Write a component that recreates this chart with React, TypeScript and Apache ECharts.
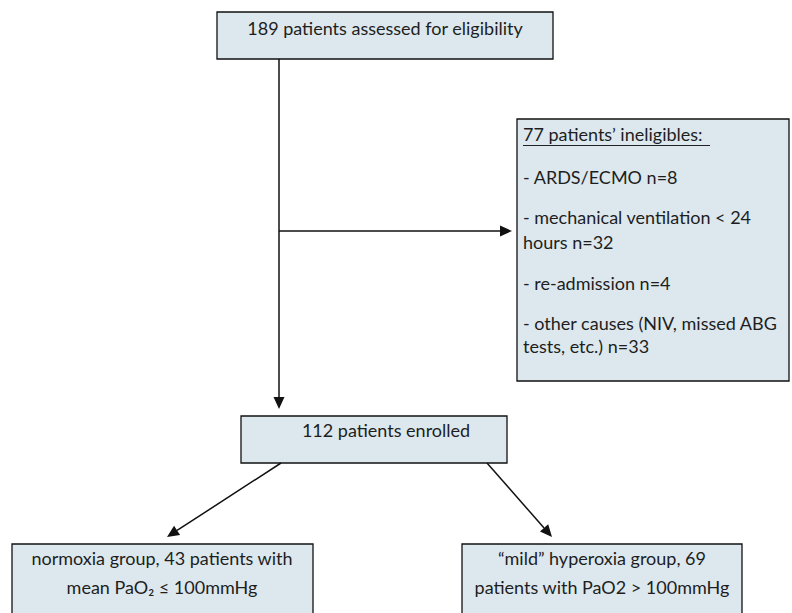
import React, { useEffect, useRef } from "react";
import * as echarts from "echarts";

const topLabel = ["189 patients assessed for eligibility"];
const excludedTitle = "77 patients\u2019 ineligibles:";
const excludedLines = [
  ["- ARDS/ECMO n=8"],
  ["- mechanical ventilation < 24", "hours n=32"],
  ["- re-admission n=4"],
  ["- other causes (NIV, missed ABG", "tests, etc.) n=33"],
];
const enrolledLabel = ["112 patients enrolled"];
const groupLabels = [
  ["normoxia group, 43 patients with", "mean PaO\u2082 \u2264 100mmHg"],
  ["\u201cmild\u201d hyperoxia group, 69", "patients with PaO2 > 100mmHg"],
];

const FILL = "#dce8ee";
const FONT = "Lato";
const FS = 18;

function box(x: number, y: number, w: number, h: number) {
  return {
    type: "rect",
    shape: { x, y, width: w, height: h },
    style: { fill: FILL, stroke: "#111", lineWidth: 1.3 },
  };
}

function text(x: number, y: number, t: string, align: string = "center") {
  return {
    type: "text",
    x,
    y,
    style: {
      text: t,
      fill: "#1e1e1e",
      font: `${FS}px ${FONT}`,
      align,
      verticalAlign: "middle",
    },
  };
}

function arrow(x1: number, y1: number, x2: number, y2: number) {
  const dx = x2 - x1;
  const dy = y2 - y1;
  const len = Math.sqrt(dx * dx + dy * dy);
  const ux = dx / len;
  const uy = dy / len;
  const hl = 12;
  const hw = 5.5;
  const bx = x2 - ux * hl;
  const by = y2 - uy * hl;
  return [
    {
      type: "line",
      shape: { x1, y1, x2: bx, y2: by },
      style: { stroke: "#111", lineWidth: 1.5 },
    },
    {
      type: "polygon",
      shape: {
        points: [
          [x2, y2],
          [bx - uy * hw, by + ux * hw],
          [bx + uy * hw, by - ux * hw],
        ],
      },
      style: { fill: "#111" },
    },
  ];
}

export default function App() {
  const ref = useRef<HTMLDivElement>(null);
  useEffect(() => {
    document.body.style.margin = "0";
    const chart = echarts.init(ref.current!, null, { renderer: "svg" });
    const els: any[] = [];
    // top box
    els.push(box(217, 12, 336, 47));
    els.push(text(385, 28, topLabel[0]));
    // excluded box
    els.push(box(517, 119, 272, 262));
    els.push(text(523, 134, excludedTitle, "left"));
    els.push({
      type: "line",
      shape: { x1: 523, y1: 145.5, x2: 710, y2: 145.5 },
      style: { stroke: "#222", lineWidth: 1 },
    });
    const ys = [[177], [217, 242], [283], [323, 346]];
    excludedLines.forEach((lines, i) =>
      lines.forEach((l, j) => els.push(text(523, ys[i][j], l, "left")))
    );
    // enrolled box
    els.push(box(241, 416, 266, 47));
    els.push(text(386, 430, enrolledLabel[0]));
    // group boxes
    els.push(box(12, 544, 301, 80));
    els.push(box(462, 544, 280, 80));
    groupLabels[0].forEach((l, j) => els.push(text(162, 558 + j * 29, l)));
    groupLabels[1].forEach((l, j) => els.push(text(602, 558 + j * 29, l)));
    // connectors
    els.push({
      type: "line",
      shape: { x1: 279, y1: 59, x2: 279, y2: 231 },
      style: { stroke: "#111", lineWidth: 1.5 },
    });
    els.push(...arrow(279, 231, 279, 409));
    els.push(...arrow(279, 231, 512, 231));
    els.push(...arrow(281, 463, 167, 537));
    els.push(...arrow(487, 463, 552, 537));

    chart.setOption({
      animation: false,
      backgroundColor: "#ffffff",
      graphic: { elements: els },
    });
    return () => chart.dispose();
  }, []);
  return <div ref={ref} style={{ width: 792, height: 613 }} />;
}
